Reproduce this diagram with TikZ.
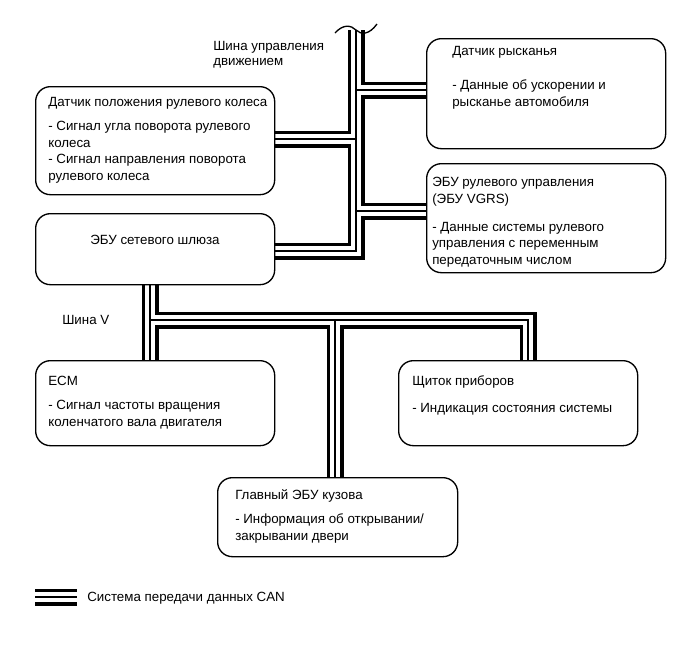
\documentclass[tikz,border=0pt]{standalone}
\usepackage{fontspec}
\setmainfont{Liberation Sans}
\usetikzlibrary{backgrounds,calc}

\tikzset{
  ecu/.style={draw, line width=1pt, rounded corners=11pt, fill=white, anchor=north west, minimum width=179.25pt, inner sep=0pt},
  txt/.style={anchor=base west, align=left, inner sep=0pt},
  can/.style={line width=12.75pt, postaction={draw=white, line width=7.5pt}, postaction={draw=black, line width=0.8pt}},
}

\begin{document}
\begin{tikzpicture}[x=0.75pt, y=-0.75pt, font=\fontsize{10}{12.5}\selectfont]
	\useasboundingbox (0,0) rectangle (690,661);
	% blocks
	\node[ecu, minimum height=81pt] (sas) at (35,86) {};
	\node[ecu, minimum height=82.5pt] (yaw) at (426,38) {};
	\node[ecu, minimum height=81.75pt] (vgrs) at (426,163) {};
	\node[ecu, minimum height=53.25pt] (gw) at (35,213) {};
	\node[ecu, minimum height=63.75pt] (ecm) at (35,360) {};
	\node[ecu, minimum height=63.75pt] (meter) at (398,360) {};
	\node[ecu, minimum height=59.25pt, minimum width=180pt] (body) at (217,477) {};
	% texts (anchored at the base of the last line)
	\node[txt] (sas-t) at (48,180.5) {Датчик положения рулевого колеса\\[5.5pt]- Сигнал угла поворота рулевого\\колеса\\- Сигнал направления поворота\\рулевого колеса};
	\node[txt] (yaw-t) at (452,106.5) {Датчик рысканья\\[13pt]- Данные об ускорении и\\рысканье автомобиля};
	\node[txt] (vgrs-t) at (432,264.5) {ЭБУ рулевого управления\\(ЭБУ VGRS)\\[8.5pt]- Данные системы рулевого\\управления с переменным\\передаточным числом};
	\node (gw-t) at (155,240) {ЭБУ сетевого шлюза};
	\node[txt] (ecm-t) at (48,426.5) {ECM\\[5.5pt]- Сигнал частоты вращения\\коленчатого вала двигателя};
	\node[txt] (meter-t) at (412,412.5) {Щиток приборов\\[7.75pt]- Индикация состояния системы};
	\node[txt] (body-t) at (235,540) {Главный ЭБУ кузова\\[5.5pt]- Информация об открывании/\\закрывании двери};
	\node[txt] (bus1) at (213,65.5) {Шина управления\\[-1.5pt]движением};
	\node[txt] (bus2) at (62,324.5) {Шина V};
	\node[txt] (leg-t) at (87,601.5) {Система передачи данных CAN};
	% bus points
	\coordinate (top) at (356,30);
	\coordinate (jyaw) at (356,90);
	\coordinate (jsas) at (356,139);
	\coordinate (jvgrs) at (356,211);
	\coordinate (jgw) at (356,251);
	\coordinate (jv) at (150,320);
	\coordinate (jbody) at (335,320);
	\coordinate (jmeter) at (528,320);
	\coordinate (leg-a) at (35,597);
	\coordinate (leg-b) at (77,597);
	\begin{scope}[on background layer]
		\draw[can] (top) -- (jgw) -- (jgw -| gw.east)
			(jyaw) -- (jyaw -| yaw.west)
			(jsas) -- (jsas -| sas.east)
			(jvgrs) -- (jvgrs -| vgrs.west)
			(jv |- gw.south) -- (jv |- ecm.north)
			(jv) -- (jmeter) -- (jmeter |- meter.north)
			(jbody) -- (jbody |- body.north);
		\draw[can] (leg-a) -- (leg-b);
	\end{scope}
	% break mark
	\draw[line width=1pt] (335,33) .. controls (343,24) and (351,25) .. (356,30) .. controls (361,35) and (369,35) .. (377,24);
\end{tikzpicture}
\end{document}
